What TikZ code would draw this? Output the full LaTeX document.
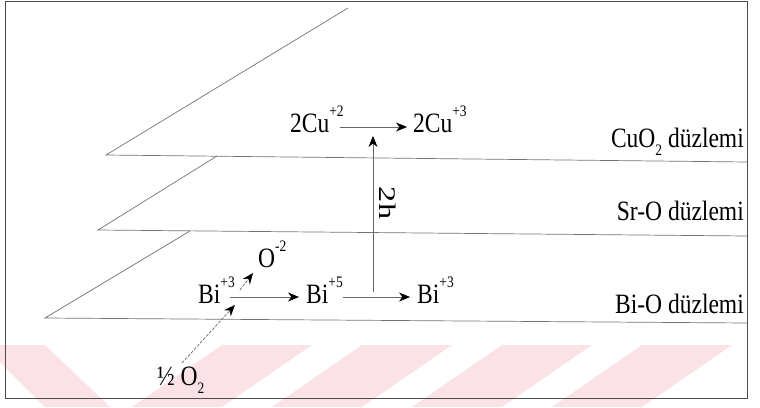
\documentclass[tikz,border=0pt]{standalone}
\usepackage{fontspec}
\setmainfont{Liberation Serif}
\newfontfamily\tms{Liberation Serif}
\usetikzlibrary{arrows.meta,calc}
\newcommand{\tx}[1]{\scalebox{0.84}[1]{#1}}
\newcommand{\sups}[1]{\raisebox{16pt}{\fontsize{16}{16}\selectfont #1}}
\newcommand{\subs}[1]{\raisebox{-8pt}{\fontsize{16}{16}\selectfont #1}}
\definecolor{wmpink}{RGB}{251,226,230}
\begin{document}
\begin{tikzpicture}[x=1pt,y=-1pt,
  plane/.style={draw=black!55, line width=0.7pt},
  chem/.style={inner sep=0pt, font=\tms\fontsize{28}{30}\selectfont},
  arr/.style={draw=black!60, line width=0.7pt, -{Stealth[length=11pt,width=9pt,inset=3.5pt,color=black]}},
  darr/.style={arr, dash pattern=on 3pt off 1.5pt},
  frame/.style={draw=black!70, line width=0.9pt},
  wm/.style={fill=wmpink, draw=none}]
\useasboundingbox (0,0) rectangle (760,407);
% watermark stripes
\fill[wm] (0,345) -- (45,345) -- (110,407) -- (45,407) -- (0,362) -- cycle;
\fill[wm] (222,345) -- (312,345) -- (222,407) -- (132,407) -- cycle;
\fill[wm] (362,345) -- (452,345) -- (362,407) -- (272,407) -- cycle;
\fill[wm] (502,345) -- (592,345) -- (502,407) -- (412,407) -- cycle;
\fill[wm] (642,345) -- (732,345) -- (642,407) -- (552,407) -- cycle;
% frame
\draw[frame] (5,1) rectangle (747,398);
% planes
\draw[plane] (348,8) -- (106,155) -- (747,162);
\draw[plane] (217,156) -- (98,230) -- (747,236);
\draw[plane] (190,231) -- (45,318) -- (747,323);
% plane labels
\node[chem, anchor=base east] (lcu) at (744,147) {\tx{CuO\subs{2} düzlemi}};
\node[chem, anchor=base east] (lsr) at (744,220) {\tx{Sr-O düzlemi}};
\node[chem, anchor=base east] (lbi) at (744,313) {\tx{Bi-O düzlemi}};
% species
\node[chem, anchor=base west] (cu2) at (290,132) {\tx{2Cu\sups{+2}}};
\node[chem, anchor=base west] (cu3) at (413,132) {\tx{2Cu\sups{+3}}};
\node[chem, anchor=base west] (b1) at (198,303) {\tx{Bi\sups{+3}}};
\node[chem, anchor=base west] (b2) at (306,303) {\tx{Bi\sups{+5}}};
\node[chem, anchor=base west] (b3) at (417,303) {\tx{Bi\sups{+3}}};
\node[chem, anchor=base west] (ox) at (258,267) {\tx{O\sups{-2}}};
\node[chem, anchor=base west] (half) at (157,385) {\tx{½ O\subs{2}}};
\node[chem, rotate=-90] (h2) at (388,203) {\scalebox{1.15}[0.85]{2h}};
% arrows
\draw[arr] ($(cu2.base east)+(-4,-5)$) -- ($(cu3.base west)+(-6,-5)$);
\draw[arr] ($(b1.base east)+(-5,-6)$) -- ($(b2.base west)+(-7,-6)$);
\draw[arr] ($(b2.base east)+(0,-6)$) -- ($(b3.base west)+(-7,-6)$);
\coordinate (vb) at (373,292);
\coordinate (vt) at (373,136);
\draw[arr] (vb) -- (vt);
\draw[darr] ($(b1.base east)+(5,-13)$) -- ($(ox.base west)+(-5,6)$);
\draw[darr] ($(half.base west)+(25,-22)$) -- ($(b1.base east)+(0,2)$);
\end{tikzpicture}
\end{document}
